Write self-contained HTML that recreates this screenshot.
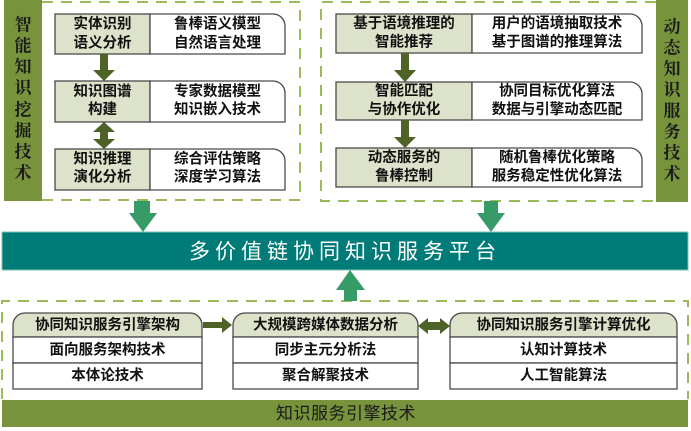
<!DOCTYPE html>
<html><head><meta charset="utf-8"><style>
html,body{margin:0;padding:0;background:#fff;}
svg{display:block;}
.b{font-family:"Liberation Sans","Noto Sans CJK SC",sans-serif;font-size:14.5px;font-weight:bold;fill:#111;}
.v{font-family:"Liberation Serif","Noto Serif CJK SC",serif;font-size:17px;font-weight:bold;fill:#1a1a1a;}
</style></head><body>
<svg width="691" height="431" viewBox="0 0 691 431" xmlns="http://www.w3.org/2000/svg">
<!-- side bars -->
<rect x="4" y="0" width="38" height="201" fill="#77933c"/>
<rect x="656" y="0" width="32" height="202" fill="#77933c"/>
<!-- dashed panels -->
<g stroke="#9bbb59" stroke-width="2" fill="none" stroke-dasharray="11 8">
<path d="M42,2 H300 V200 H42"/>
<path d="M656,2 H321 V201 H656"/>
<path d="M2,399 V301 H688 V399"/>
</g>
<!-- left panel boxes -->
<g stroke="#4a4a4a" stroke-width="1.3">
<rect x="55" y="14" width="95" height="40" fill="#dde2cb"/>
<path d="M150,14 H273 A12,12 0 0 1 285,26 V54 H150 Z" fill="#fff"/>
<rect x="55" y="81" width="95" height="41" fill="#dde2cb"/>
<path d="M150,81 H273 A12,12 0 0 1 285,93 V122 H150 Z" fill="#fff"/>
<rect x="55" y="149" width="95" height="41" fill="#dde2cb"/>
<path d="M150,149 H273 A12,12 0 0 1 285,161 V190 H150 Z" fill="#fff"/>
<!-- right panel boxes -->
<rect x="336" y="14" width="136" height="39" fill="#dde2cb"/>
<path d="M472,14 H630 A12,12 0 0 1 642,26 V53 H472 Z" fill="#fff"/>
<rect x="336" y="82" width="136" height="38" fill="#dde2cb"/>
<path d="M472,82 H630 A12,12 0 0 1 642,94 V120 H472 Z" fill="#fff"/>
<rect x="336" y="148" width="136" height="39" fill="#dde2cb"/>
<path d="M472,148 H630 A12,12 0 0 1 642,160 V187 H472 Z" fill="#fff"/>
<!-- bottom boxes -->
<path d="M13,337 V325 A12,12 0 0 1 25,313 H190 A12,12 0 0 1 202,325 V337 Z" fill="#dde2cb"/>
<rect x="13" y="337" width="189" height="26" fill="#fff"/>
<rect x="13" y="363" width="189" height="26" fill="#fff"/>
<path d="M233,337 V325 A12,12 0 0 1 245,313 H406 A12,12 0 0 1 418,325 V337 Z" fill="#dde2cb"/>
<rect x="233" y="337" width="185" height="26" fill="#fff"/>
<rect x="233" y="363" width="185" height="26" fill="#fff"/>
<path d="M450,337 V325 A12,12 0 0 1 462,313 H665 A12,12 0 0 1 677,325 V337 Z" fill="#dde2cb"/>
<rect x="450" y="337" width="227" height="26" fill="#fff"/>
<rect x="450" y="363" width="227" height="26" fill="#fff"/>
</g>
<!-- olive arrows -->
<g fill="#4f6228">
<path d="M100,54 H108 V70 H115 L104,81 L93,70 H100 Z"/>
<path d="M104,122 L115,132 H108 V139 H115 L104,149 L93,139 H100 V132 H93 Z"/>
<path d="M401,53 H409 V70 H416 L405,82 L394,70 H401 Z"/>
<path d="M401,120 H409 V137 H416 L405,148 L394,137 H401 Z"/>
<path d="M203,322 H222 V317 L232,325 L222,333 V328 H203 Z"/>
<path d="M418,326 L428,318 V322 H440 V318 L450,326 L440,334 V330 H428 V334 Z"/>
</g>
<!-- platform -->
<rect x="2" y="232" width="686" height="38" fill="#007b77" stroke="#7fc0b9" stroke-width="1"/>
<g fill="#369b66">
<path d="M134,201 H150 V213 H157 L143,232 L129,213 H134 Z"/>
<path d="M484,201 H498 V213 H505 L491,232 L477,213 H484 Z"/>
<path d="M350,270 L365,290 H357 V301 H344 V290 H336 Z"/>
</g>
<text x="345" y="252" text-anchor="middle" dominant-baseline="central" fill="#fff" style="font-family:'Liberation Sans','Noto Sans CJK SC',sans-serif;font-size:21px;letter-spacing:5px;">多价值链协同知识服务平台</text>
<!-- bottom bar -->
<rect x="2" y="400" width="686" height="27" fill="#77933c"/>
<text x="346" y="413.5" text-anchor="middle" dominant-baseline="central" fill="#1a1a1a" style="font-family:'Liberation Sans','Noto Sans CJK SC',sans-serif;font-size:17px;letter-spacing:0.5px;">知识服务引擎技术</text>
<!-- vertical texts -->
<g class="v" text-anchor="middle" dominant-baseline="central">
<text x="23" y="25">智</text><text x="23" y="46">能</text><text x="23" y="67">知</text><text x="23" y="88">识</text>
<text x="23" y="110">挖</text><text x="23" y="131">掘</text><text x="23" y="152">技</text><text x="23" y="173">术</text>
<text x="672" y="27">动</text><text x="672" y="48">态</text><text x="672" y="69">知</text><text x="672" y="90">识</text>
<text x="672" y="111">服</text><text x="672" y="132">务</text><text x="672" y="153">技</text><text x="672" y="174">术</text>
</g>
<!-- box texts -->
<g class="b" text-anchor="middle" dominant-baseline="central">
<text x="102.5" y="24.5">实体识别</text><text x="102.5" y="43.5">语义分析</text>
<text x="217.5" y="24.5">鲁棒语义模型</text><text x="217.5" y="43.5">自然语言处理</text>
<text x="102.5" y="92">知识图谱</text><text x="102.5" y="110">构建</text>
<text x="217.5" y="92">专家数据模型</text><text x="217.5" y="110">知识嵌入技术</text>
<text x="102.5" y="159.5">知识推理</text><text x="102.5" y="177.5">演化分析</text>
<text x="217.5" y="159.5">综合评估策略</text><text x="217.5" y="177.5">深度学习算法</text>

<text x="404" y="24">基于语境推理的</text><text x="404" y="42.5">智能推荐</text>
<text x="557" y="24">用户的语境抽取技术</text><text x="557" y="42.5">基于图谱的推理算法</text>
<text x="404" y="91.5">智能匹配</text><text x="404" y="110">与协作优化</text>
<text x="557" y="91.5">协同目标优化算法</text><text x="557" y="110">数据与引擎动态匹配</text>
<text x="404" y="158">动态服务的</text><text x="404" y="176.5">鲁棒控制</text>
<text x="557" y="158">随机鲁棒优化策略</text><text x="557" y="176.5">服务稳定性优化算法</text>

<text x="107.5" y="325.5">协同知识服务引擎架构</text>
<text x="107.5" y="350.5">面向服务架构技术</text>
<text x="107.5" y="376">本体论技术</text>
<text x="325.5" y="325.5">大规模跨媒体数据分析</text>
<text x="325.5" y="350.5">同步主元分析法</text>
<text x="325.5" y="376">聚合解聚技术</text>
<text x="563.5" y="325.5">协同知识服务引擎计算优化</text>
<text x="563.5" y="350.5">认知计算技术</text>
<text x="563.5" y="376">人工智能算法</text>
</g>
</svg>
</body></html>
